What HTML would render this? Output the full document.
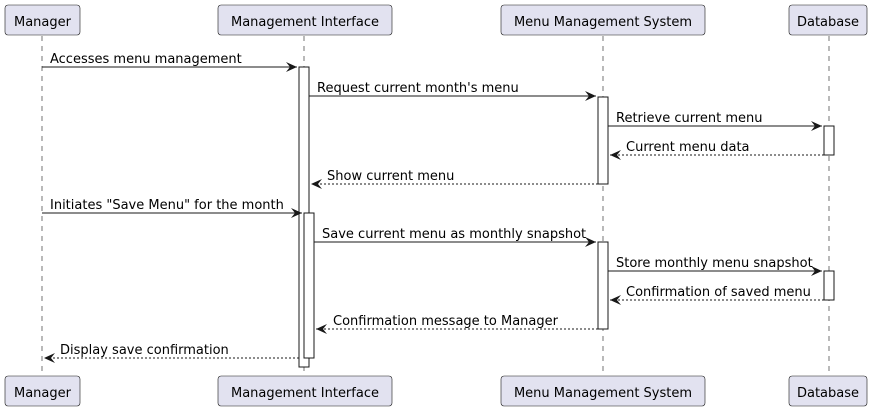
<!DOCTYPE html>
<html><head><meta charset="utf-8"><style>
html,body{margin:0;padding:0;background:#fff;}
svg{display:block;}
text{font-family:"DejaVu Sans","Liberation Sans",sans-serif;font-size:13px;fill:#000;}
</style></head><body>
<svg width="875" height="411" viewBox="0 0 875 411" xmlns="http://www.w3.org/2000/svg">
<defs>
<marker id="a" viewBox="0 0 12 10" refX="11" refY="5" markerWidth="12" markerHeight="10" markerUnits="userSpaceOnUse" orient="auto-start-reverse">
<path d="M0,0 L11,5 L0,10 L4,5 Z" fill="#181818"/>
</marker>
</defs>
<g stroke="#181818" stroke-width="0.6" stroke-dasharray="5,5">
<line x1="42" y1="36" x2="42" y2="376"/>
<line x1="304" y1="36" x2="304" y2="376"/>
<line x1="603" y1="36" x2="603" y2="376"/>
<line x1="829" y1="36" x2="829" y2="376"/>
</g>
<g fill="#E2E2F0" stroke="#181818" stroke-width="0.6">
<rect x="5" y="5" width="75" height="30" rx="3"/>
<rect x="218" y="5" width="174" height="30" rx="3"/>
<rect x="501" y="5" width="204" height="30" rx="3"/>
<rect x="789" y="5" width="78" height="30" rx="3"/>
<rect x="5" y="376" width="75" height="30" rx="3"/>
<rect x="218" y="376" width="174" height="30" rx="3"/>
<rect x="501" y="376" width="204" height="30" rx="3"/>
<rect x="789" y="376" width="78" height="30" rx="3"/>
</g>
<g text-anchor="middle" style="font-size:15px">
<text x="42.5" y="26">Manager</text><text x="305" y="26">Management Interface</text>
<text x="603" y="26">Menu Management System</text><text x="828" y="26">Database</text>
<text x="42.5" y="397">Manager</text><text x="305" y="397">Management Interface</text>
<text x="603" y="397">Menu Management System</text><text x="828" y="397">Database</text>
</g>
<g fill="#fff" stroke="#181818" stroke-width="1">
<rect x="299" y="67" width="10" height="300"/>
<rect x="304" y="213" width="10" height="145"/>
<rect x="598" y="97" width="10" height="87"/>
<rect x="598" y="242" width="10" height="87"/>
<rect x="824" y="126" width="10" height="29"/>
<rect x="824" y="271" width="10" height="29"/>
</g>
<g stroke="#181818" stroke-width="1" fill="none">
<line x1="42" y1="67" x2="297" y2="67" marker-end="url(#a)"/>
<line x1="309" y1="96" x2="596" y2="96" marker-end="url(#a)"/>
<line x1="608" y1="126" x2="822" y2="126" marker-end="url(#a)"/>
<line x1="824" y1="155" x2="610" y2="155" stroke-dasharray="2,2" marker-end="url(#a)"/>
<line x1="598" y1="184" x2="311" y2="184" stroke-dasharray="2,2" marker-end="url(#a)"/>
<line x1="42" y1="213" x2="302" y2="213" marker-end="url(#a)"/>
<line x1="314" y1="242" x2="596" y2="242" marker-end="url(#a)"/>
<line x1="608" y1="271" x2="822" y2="271" marker-end="url(#a)"/>
<line x1="824" y1="300" x2="610" y2="300" stroke-dasharray="2,2" marker-end="url(#a)"/>
<line x1="598" y1="329" x2="316" y2="329" stroke-dasharray="2,2" marker-end="url(#a)"/>
<line x1="299" y1="358" x2="44" y2="358" stroke-dasharray="2,2" marker-end="url(#a)"/>
</g>
<text x="50" y="63">Accesses menu management</text>
<text x="317" y="92">Request current month's menu</text>
<text x="616" y="122">Retrieve current menu</text>
<text x="626" y="151">Current menu data</text>
<text x="327" y="180">Show current menu</text>
<text x="50" y="209">Initiates "Save Menu" for the month</text>
<text x="322" y="238">Save current menu as monthly snapshot</text>
<text x="616" y="267">Store monthly menu snapshot</text>
<text x="626" y="296">Confirmation of saved menu</text>
<text x="333" y="325">Confirmation message to Manager</text>
<text x="60" y="354">Display save confirmation</text>
</svg>
</body></html>
